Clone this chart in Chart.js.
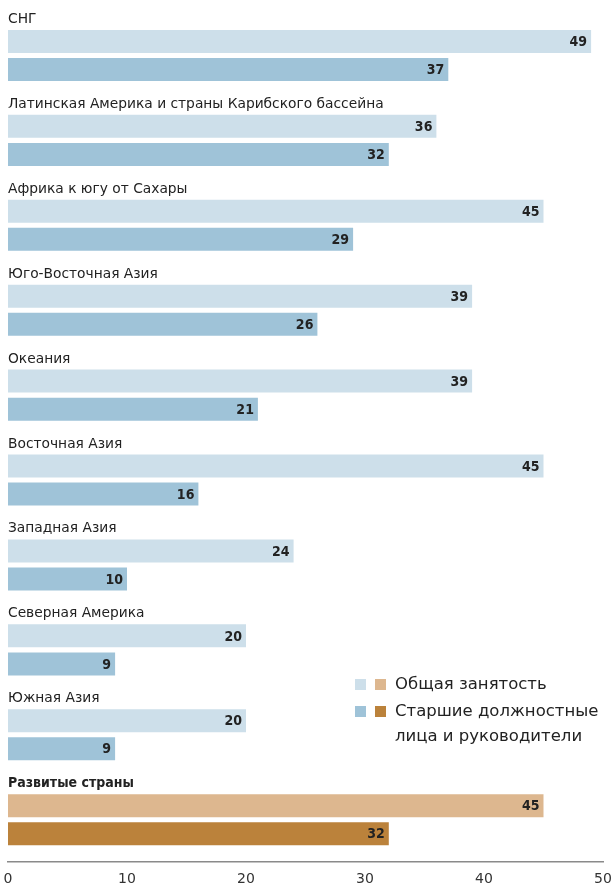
<!DOCTYPE html>
<html>
<head>
<meta charset="utf-8">
<script src="https://cdn.jsdelivr.net/npm/chart.js@4"></script>
<style>
  html, body { margin: 0; padding: 0; background: #fff; }
  #wrap { width: 614px; height: 885px; position: relative; }
</style>
</head>
<body>
<div id="wrap"><canvas id="chart"></canvas></div>
<script>
// regions, top to bottom (last one is the developed countries)
const regions = [
    "СНГ",
    "Латинская Америка и страны Карибского бассейна",
    "Африка к югу от Сахары",
    "Юго-Восточная Азия",
    "Океания",
    "Восточная Азия",
    "Западная Азия",
    "Северная Америка",
    "Южная Азия",
    "Развитые страны"
];

// share of women, %
const totalEmployment = [49, 36, 45, 39, 39, 45, 24, 20, 20, 45];
const seniorManagers = [37, 32, 29, 26, 21, 16, 10, 9, 9, 32];

const xTicks = [0, 10, 20, 30, 40, 50];

const seriesNames = ["Общая занятость", "Старшие должностные лица и руководители"];

const FONT = "'DejaVu Sans', sans-serif";
const COND = "'DejaVu Sans Condensed', 'DejaVu Sans', sans-serif";

// colours: developing regions blue, developed countries brown
const lightBlue = "#cddfea", midBlue = "#9fc3d8";
const lightTan = "#ddb78f", brown = "#bb823b";

function colorsFor(normal, developed){
    return regions.map((r, i) => i === regions.length - 1 ? developed : normal);
}

// draws region names above bars and values inside bar ends
const labelsPlugin = {
    id: "labels",
    afterDatasetsDraw(chart){
        const ctx = chart.ctx;
        const first = chart.getDatasetMeta(0);
        ctx.save();

        // region names
        first.data.forEach((bar, i) => {
            const last = i === regions.length - 1;
            ctx.font = last ? "bold 14px " + COND : "13.8px " + FONT;
            ctx.fillStyle = "#222";
            ctx.textAlign = "left";
            ctx.textBaseline = "alphabetic";
            ctx.fillText(regions[i], chart.chartArea.left, bar.y - bar.height / 2 - 7);
        });

        // values
        ctx.font = "bold 14px " + COND;
        ctx.textAlign = "right";
        ctx.textBaseline = "middle";
        chart.data.datasets.forEach((ds, d) => {
            chart.getDatasetMeta(d).data.forEach((bar, i) => {
                ctx.fillText(ds.data[i], bar.x - 4, bar.y + 1);
            });
        });
        ctx.restore();
    }
};

// legend with two swatches per series
const legendPlugin = {
    id: "twoSwatchLegend",
    afterDraw(chart){
        const ctx = chart.ctx;
        const x = 355, y = 685;
        const rows = [
            { colors: [lightBlue, lightTan], lines: ["Общая занятость"] },
            { colors: [midBlue, brown], lines: ["Старшие должностные", "лица и руководители"] }
        ];
        ctx.save();
        ctx.font = "16.5px " + FONT;
        ctx.textBaseline = "middle";
        let cy = y;
        rows.forEach(row => {
            ctx.fillStyle = row.colors[0];
            ctx.fillRect(x, cy - 6, 11, 11);
            ctx.fillStyle = row.colors[1];
            ctx.fillRect(x + 20, cy - 6, 11, 11);
            ctx.fillStyle = "#222";
            row.lines.forEach((line, j) => {
                ctx.fillText(line, x + 40, cy + j * 25);
            });
            cy += 27;
        });
        ctx.restore();
    }
};

const canvas = document.getElementById("chart");
canvas.width = 614;
canvas.height = 885;

new Chart(canvas, {
    type: "bar",
    data: {
        labels: regions,
        datasets: [
            {
                label: seriesNames[0],
                data: totalEmployment,
                backgroundColor: colorsFor(lightBlue, lightTan),
                categoryPercentage: 0.661,
                barPercentage: 0.82
            },
            {
                label: seriesNames[1],
                data: seniorManagers,
                backgroundColor: colorsFor(midBlue, brown),
                categoryPercentage: 0.661,
                barPercentage: 0.82
            }
        ]
    },
    options: {
        indexAxis: "y",
        responsive: false,
        animation: false,
        layout: { padding: { top: 13, left: 8, right: 11, bottom: -12 } },
        plugins: {
            legend: { display: false },
            tooltip: { enabled: false }
        },
        scales: {
            y: { display: false },
            x: {
                min: 0,
                max: 50,
                afterBuildTicks(scale){
                    scale.ticks = xTicks.map(v => ({ value: v }));
                },
                // let the end labels hang over the plot edges
                afterFit(scale){
                    scale.paddingLeft = 0;
                    scale.paddingRight = 0;
                },
                grid: { display: false, drawTicks: false },
                border: { display: true, color: "#8a8a8a", width: 1.5 },
                ticks: {
                    color: "#333",
                    padding: 9,
                    maxRotation: 0,
                    font: { family: FONT, size: 14 }
                }
            }
        }
    },
    plugins: [labelsPlugin, legendPlugin]
});
</script>
</body>
</html>
